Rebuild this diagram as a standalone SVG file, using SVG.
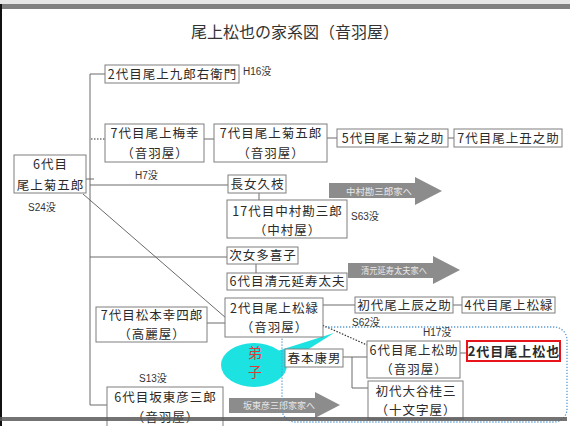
<svg xmlns="http://www.w3.org/2000/svg" width="570" height="426" viewBox="0 0 570 426">
<style>
.bx{fill:#fff;stroke:#7f7f7f;stroke-width:1}
.t{font-family:"Noto Sans CJK JP","Noto Sans CJK SC",sans-serif;font-size:12.5px;letter-spacing:1px;fill:#2a2a2a;text-anchor:middle}
.s{font-family:"Liberation Sans","Noto Sans CJK JP",sans-serif;font-size:10px;fill:#333}
.ln{fill:none;stroke:#6a6a6a;stroke-width:1}
.dot{fill:none;stroke:#333;stroke-width:1.2;stroke-dasharray:1.5,1.5}
.arr{fill:#8c8c8c}
.at{font-family:"Noto Sans CJK JP",sans-serif;font-size:9px;fill:#e8e8e8}
</style>
<rect x="0" y="0" width="570" height="426" fill="#fff"/>
<rect x="0" y="0" width="570" height="4" fill="#e6e6e6"/>
<rect x="0" y="4" width="570" height="5" fill="#808080"/>
<rect x="0" y="4" width="2" height="422" fill="#111"/>
<text x="295" y="38" font-family="Noto Sans CJK JP, sans-serif" font-size="16" fill="#333" text-anchor="middle">尾上松也の家系図（音羽屋）</text>

<g id="connectors">
<path class="ln" d="M90,74 V405 H107"/>
<path class="ln" d="M90,74 H105"/>
<path class="dot" d="M91,139 H105"/>
<path class="ln" d="M204,139 H214"/>
<path class="ln" d="M327,138 H337"/>
<path class="ln" d="M448,138 H454"/>
<path class="ln" d="M86,179 H94"/>
<path class="ln" d="M90,185 H228"/>
<path class="ln" d="M259,193 V200"/>
<path class="ln" d="M90,257 H227"/>
<path class="ln" d="M256,264 V273"/>
<path class="ln" d="M83,194 L226,318"/>
<path class="ln" d="M207,323 H225"/>
<path class="ln" d="M323,305 H355"/>
<path class="ln" d="M453,305 H462"/>
<path class="dot" d="M320,324 L367,345"/>
<path class="ln" d="M343,357 H367"/>
<path class="ln" d="M352,357 V388 H368"/>
<path class="ln" d="M460,353 H467"/>
</g>

<g id="arrow1">
<polygon class="arr" points="329,183 415,183 415,177 442,191 415,205 415,198 329,198"/>
<text class="at" x="346" y="194.5" textLength="66" lengthAdjust="spacingAndGlyphs">中村勘三郎家へ</text>
</g>
<g id="arrow2">
<polygon class="arr" points="348,263 433,263 433,256 460,270 433,284 433,278 348,278"/>
<text class="at" x="361" y="273.5" textLength="66" lengthAdjust="spacingAndGlyphs">清元延寿太夫家へ</text>
</g>
<g id="arrow3">
<polygon class="arr" points="229,398 315,398 315,392 340,405 315,418 315,413 229,413"/>
<text class="at" x="243" y="409" textLength="72" lengthAdjust="spacingAndGlyphs">坂東彦三郎家家へ</text>
</g>

<g id="callout">
<polygon points="274,352 334,333 288,362" fill="#1de2e2"/>
<ellipse cx="254" cy="365" rx="33" ry="22" fill="#1de2e2"/>
<text x="255" y="358" font-family="Noto Sans CJK JP, sans-serif" font-size="14" fill="#e03a3a" text-anchor="middle">弟</text>
<text x="255" y="377" font-family="Noto Sans CJK JP, sans-serif" font-size="14" fill="#e03a3a" text-anchor="middle">子</text>
</g>

<rect id="group-box" x="282" y="327" width="285" height="95" rx="13" fill="none" stroke="#5b9bd5" stroke-width="1.3" stroke-dasharray="1.3,1.7"/>

<g id="n1"><rect class="bx" x="105" y="65" width="134" height="18"/><text class="t" x="172.5" y="78.5">2代目尾上九郎右衛門</text></g>
<g id="n2"><rect class="bx" x="105" y="124" width="99" height="38"/><text class="t" x="155" y="138">7代目尾上梅幸</text><text class="t" x="155" y="157.5">（音羽屋）</text></g>
<g id="n3"><rect class="bx" x="214" y="124" width="113" height="38"/><text class="t" x="271" y="138">7代目尾上菊五郎</text><text class="t" x="271" y="157.5">（音羽屋）</text></g>
<g id="n4"><rect class="bx" x="337" y="129" width="111" height="18"/><text class="t" x="393" y="142.5">5代目尾上菊之助</text></g>
<g id="n5"><rect class="bx" x="454" y="129" width="108" height="18"/><text class="t" x="508.5" y="142.5">7代目尾上丑之助</text></g>
<g id="n6"><rect class="bx" x="14" y="155" width="72" height="38"/><text class="t" x="50.5" y="168.5">6代目</text><text class="t" x="50.5" y="189.5">尾上菊五郎</text></g>
<g id="n7"><rect class="bx" x="228" y="175" width="58" height="18"/><text class="t" x="257.5" y="188.5">長女久枝</text></g>
<g id="n8"><rect class="bx" x="227" y="200" width="120" height="38"/><text class="t" x="287.5" y="215.5">17代目中村勘三郎</text><text class="t" x="287.5" y="234.5">（中村屋）</text></g>
<g id="n9"><rect class="bx" x="227" y="247" width="71" height="17"/><text class="t" x="263" y="260">次女多喜子</text></g>
<g id="n10"><rect class="bx" x="227" y="273" width="120" height="17"/><text class="t" x="287.5" y="286">6代目清元延寿太夫</text></g>
<g id="n11"><rect class="bx" x="225" y="298" width="98" height="39"/><text class="t" x="274.5" y="312.5">2代目尾上松緑</text><text class="t" x="274.5" y="331.5">（音羽屋）</text></g>
<g id="n12"><rect class="bx" x="355" y="297" width="98" height="16"/><text class="t" x="404.5" y="309.5">初代尾上辰之助</text></g>
<g id="n13"><rect class="bx" x="462" y="297" width="93" height="16"/><text class="t" x="509" y="309.5">4代目尾上松緑</text></g>
<g id="n14"><rect class="bx" x="96" y="307" width="111" height="35"/><text class="t" x="152" y="319.5">7代目松本幸四郎</text><text class="t" x="152" y="338.5">（高麗屋）</text></g>
<g id="n15"><rect class="bx" x="285" y="349" width="58" height="18"/><text class="t" x="314.5" y="362.5">春本康男</text></g>
<g id="n16"><rect class="bx" x="367" y="341" width="93" height="37"/><text class="t" x="414" y="354.5">6代目尾上松助</text><text class="t" x="414" y="373.5">（音羽屋）</text></g>
<g id="n17"><rect x="467" y="341" width="93" height="20" fill="#fff" stroke="#e8141b" stroke-width="2"/><text class="t" x="514" y="356" font-weight="bold" style="font-size:13px">2代目尾上松也</text></g>
<g id="n18"><rect class="bx" x="368" y="381" width="95" height="38"/><text class="t" x="416" y="395.5">初代大谷桂三</text><text class="t" x="416" y="414.5">（十文字屋）</text></g>
<g id="n19"><rect class="bx" x="107" y="387" width="116" height="40"/><text class="t" x="165.5" y="401.5">6代目坂東彦三郎</text><text class="t" x="165.5" y="421.5">（音羽屋）</text></g>

<g id="labels">
<text class="s" x="243" y="74.5">H16没</text>
<text class="s" x="135" y="178.5">H7没</text>
<text class="s" x="28" y="210.5">S24没</text>
<text class="s" x="351" y="219.5">S63没</text>
<text class="s" x="352" y="325.5">S62没</text>
<text class="s" x="423" y="335.5">H17没</text>
<text class="s" x="139" y="381.5">S13没</text>
</g>

<rect x="0" y="417" width="567" height="4" fill="#5a5a5a" opacity="0.85"/>
</svg>
